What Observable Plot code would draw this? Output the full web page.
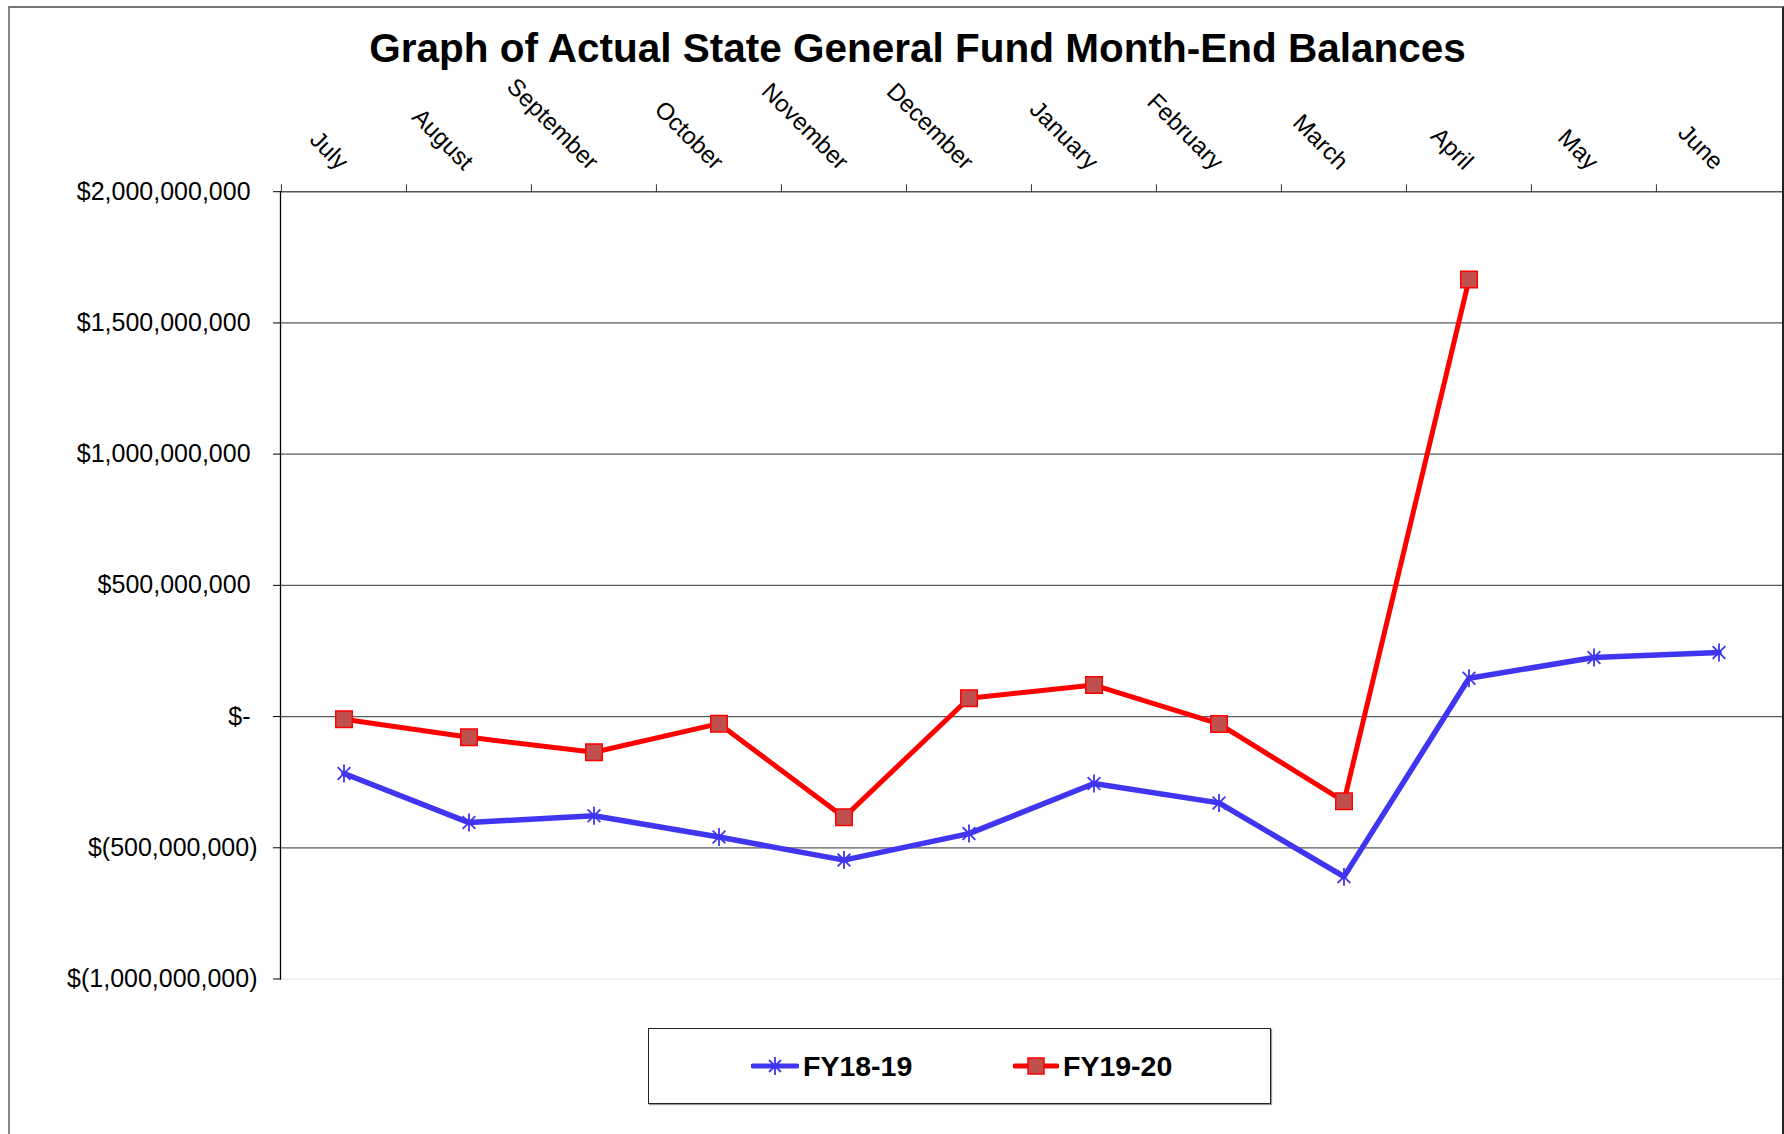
<!DOCTYPE html>
<html><head><meta charset="utf-8">
<script src="https://cdn.jsdelivr.net/npm/d3@7"></script>
<script src="https://cdn.jsdelivr.net/npm/@observablehq/plot@0.6"></script>
<style>
body{margin:0;background:#fff;font-family:"Liberation Sans",Arial,sans-serif;}
#wrap{position:relative;width:1784px;height:1134px;overflow:hidden;background:#fff;}
#border{position:absolute;left:8px;top:6px;width:1772px;height:1200px;border-left:2px solid #888;border-top:2px solid #777;border-right:2px solid #222;}
#title{position:absolute;top:28px;left:0;width:1835px;text-align:center;font-weight:bold;font-size:40.5px;line-height:40.5px;color:#000;white-space:nowrap;}
#chart{position:absolute;left:0;top:68px;}
#legend{position:absolute;left:648px;top:1028px;width:621px;height:74px;border:1.5px solid #222;box-shadow:1px 1px 1px #999;background:#fff;}
.item{position:absolute;top:0;height:74px;display:flex;align-items:center;}
.lab{font-weight:bold;font-size:28.5px;color:#000;margin-left:4px;}
</style></head>
<body>
<div id="wrap">
  <div id="border"></div>
  <div id="title">Graph of Actual State General Fund Month-End Balances</div>
  <div id="chart"></div>
  <div id="legend">
    <div class="item" style="left:102px">
      <svg width="48" height="20" viewBox="0 0 48 20"><line x1="2" y1="10" x2="46" y2="10" stroke="#4035F0" stroke-width="5" stroke-linecap="round"/><g stroke="#4035F0" stroke-width="1.8"><line x1="24" y1="1" x2="24" y2="19"/><line x1="18" y1="4" x2="30" y2="16"/><line x1="18" y1="16" x2="30" y2="4"/></g></svg>
      <span class="lab">FY18-19</span>
    </div>
    <div class="item" style="left:364px">
      <svg width="46" height="20" viewBox="0 0 46 20"><line x1="2" y1="10" x2="44" y2="10" stroke="#FF0000" stroke-width="5" stroke-linecap="round"/><rect x="15" y="2" width="16" height="16" fill="#C0504D" stroke="#FF0000" stroke-width="1.5"/></svg>
      <span class="lab">FY19-20</span>
    </div>
  </div>
</div>
<script>
const months = ["July","August","September","October","November","December","January","February","March","April","May","June"];
const fy1819 = [-217e6, -404e6, -378e6, -459e6, -547e6, -446e6, -255e6, -329e6, -610e6, 146e6, 225e6, 244e6];
const fy1920 = [-10e6, -79e6, -136e6, -27e6, -384e6, 70e6, 120e6, -28e6, -323e6, 1665e6];
const yTicks = [-1e9, -5e8, 0, 5e8, 1e9, 1.5e9, 2e9];

const rows1819 = fy1819.map((v, i) => ({month: months[i], value: v}));
const rows1920 = fy1920.map((v, i) => ({month: months[i], value: v}));

const fmt = d3.format(",");
const money = d => d === 0 ? "$-\u00A0" : d < 0 ? `$(${fmt(-d)})` : `$${fmt(d)}\u00A0`;

const starSymbol = {
  draw(context, size) {
    const r = Math.sqrt(size / Math.PI);
    const d = r * Math.SQRT1_2;
    context.moveTo(0, -r); context.lineTo(0, r);
    context.moveTo(-d, -d); context.lineTo(d, d);
    context.moveTo(-d, d); context.lineTo(d, -d);
  }
};

const W = 1784, H = 927, mL = 280, mR = 2, mT = 123.2, mB = 16.5;
const band = (W - mL - mR) / months.length;

const chart = Plot.plot({
  width: W, height: H,
  marginLeft: mL, marginRight: mR, marginTop: mT, marginBottom: mB,
  style: {fontFamily: '"Liberation Sans", Arial, sans-serif', color: "#000", background: "transparent"},
  x: {type: "band", domain: months, padding: 0, axis: null, label: null},
  y: {domain: [-1e9, 2e9], axis: null, label: null},
  marks: [
    Plot.gridY(yTicks.filter(t => t > -1e9 && t < 2e9), {stroke: "#5a5a5a", strokeOpacity: 1, strokeWidth: 1.3}),
    Plot.ruleY([-1e9], {stroke: "#eeeeee", strokeWidth: 1.3}),
    Plot.ruleY([2e9], {stroke: "#555", strokeWidth: 1.6}),
    Plot.frame({anchor: "left", stroke: "#000", strokeWidth: 1.3}),
    Plot.axisY(yTicks, {anchor: "left", label: null, tickSize: 7, tickPadding: 16, tickFormat: money, fontSize: 25, stroke: "#000", fill: "#000"}),
    Plot.axisX({anchor: "top", label: null, tickSize: 0, tickRotate: 45, tickPadding: 26, fontSize: 24, fill: "#000"}),
    Plot.axisX({anchor: "top", label: null, tickSize: 8, text: null, dx: -band / 2, stroke: "#333"}),
    Plot.line(rows1819, {x: "month", y: "value", stroke: "#4035F0", strokeWidth: 5.5, strokeLinejoin: "round"}),
    Plot.line(rows1920, {x: "month", y: "value", stroke: "#FF0000", strokeWidth: 5, strokeLinejoin: "round"}),
    Plot.dot(rows1819, {x: "month", y: "value", symbol: starSymbol, r: 9, stroke: "#4035F0", strokeWidth: 1.8, fill: "none"}),
    Plot.dot(rows1920, {x: "month", y: "value", symbol: "square", r: 9.3, fill: "#C0504D", stroke: "#FF0000", strokeWidth: 1.5})
  ]
});
document.getElementById("chart").appendChild(chart);
</script>
</body></html>
